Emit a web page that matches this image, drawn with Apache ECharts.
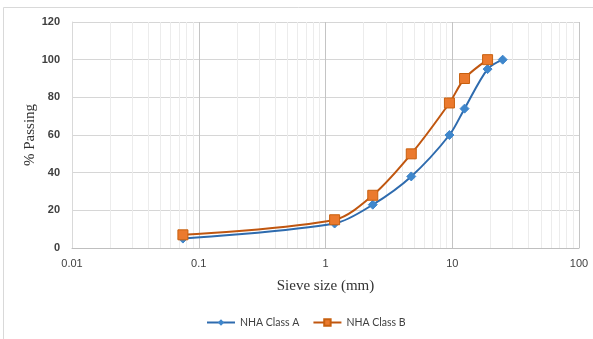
<!DOCTYPE html>
<html>
<head>
<meta charset="utf-8">
<script src="https://cdn.jsdelivr.net/npm/echarts@6/dist/echarts.min.js"></script>
<style>html,body{margin:0;padding:0;background:#fff;}#c{width:593px;height:339px;}</style>
</head>
<body>
<div id="c"></div>
<script>
// Data
const sieveA = [0.075, 1.18, 2.36, 4.75, 9.5, 12.5, 19, 25];
const passA = [5, 13, 23, 38, 60, 74, 95, 100];
const sieveB = [0.075, 1.18, 2.36, 4.75, 9.5, 12.5, 19];
const passB = [7, 15, 28, 50, 77, 90, 100];
const seriesNames = ['NHA Class A', 'NHA Class B'];
const xTickLabels = ['0.01', '0.1', '1', '10', '100'];
const yTicks = [0, 20, 40, 60, 80, 100, 120];

// minor log gridline positions (2..9 per decade)
const decades = [0.01, 0.1, 1, 10];
const minorPos = [];
decades.forEach(d => { for (let k = 2; k <= 9; k++) minorPos.push(+(k * d).toPrecision(3)); });

const chart = echarts.init(document.getElementById('c'), null, {renderer: 'canvas'});
const labelFont = '"Liberation Sans", Arial, sans-serif';
const legendFont = 'Lato, "Liberation Sans", sans-serif';
const serif = '"Liberation Serif", "Times New Roman", serif';

chart.setOption({
  animation: false,
  backgroundColor: '#fff',
  graphic: [{
    type: 'rect', silent: true, z: -10,
    shape: {x: 3.5, y: 7.5, width: 620, height: 360},
    style: {fill: 'none', stroke: '#d9d9d9', lineWidth: 1}
  }],
  grid: {left: 72, right: 14, top: 22, bottom: 91, containLabel: false},
  legend: {
    data: seriesNames,
    left: 206, bottom: 11, padding: 0,
    itemWidth: 28, itemHeight: 8, itemGap: 13,
    textStyle: {fontFamily: legendFont, fontSize: 10.5, color: '#404040'}
  },
  xAxis: {
    type: 'log', logBase: 10, min: 0.01, max: 100,
    name: 'Sieve size (mm)', nameLocation: 'middle', nameGap: 31, nameMoveOverlap: false,
    nameTextStyle: {fontFamily: serif, fontSize: 15, color: '#333'},
    axisLine: {show: true, lineStyle: {color: '#bfbfbf'}},
    axisTick: {show: false},
    axisLabel: {
      margin: 10, fontFamily: labelFont, fontSize: 11, color: '#404040',
      formatter: v => {
        const i = Math.round(Math.log10(v)) + 2;
        return xTickLabels[i] !== undefined ? xTickLabels[i] : '';
      }
    },
    splitLine: {show: true, lineStyle: {color: '#c4c4c4', width: 1}}
  },
  yAxis: {
    type: 'value', min: yTicks[0], max: yTicks[yTicks.length - 1], interval: 20,
    name: '% Passing', nameLocation: 'middle', nameGap: 34, nameRotate: 90, nameMoveOverlap: false,
    nameTextStyle: {fontFamily: serif, fontSize: 15, color: '#333'},
    axisLine: {show: true, lineStyle: {color: '#d9d9d9'}},
    axisTick: {show: false},
    axisLabel: {margin: 12, fontFamily: labelFont, fontSize: 11, color: '#404040', fontWeight: 'bold'},
    splitLine: {show: true, lineStyle: {color: '#d6d6d6', width: 1}}
  },
  series: [
    {
      name: seriesNames[0], type: 'line', smooth: 0.3,
      data: sieveA.map((x, i) => [x, passA[i]]),
      symbol: 'diamond', symbolSize: 9,
      lineStyle: {color: '#2E6BAE', width: 2},
      itemStyle: {color: '#3F87CC', borderColor: '#3F87CC'},
      markLine: {
        silent: true, symbol: ['none', 'none'], label: {show: false},
        lineStyle: {color: '#ececec', width: 1, type: 'solid'},
        z: 0,
        data: minorPos.map(v => ({xAxis: v}))
      },
      z: 3
    },
    {
      name: seriesNames[1], type: 'line', smooth: 0.3,
      data: sieveB.map((x, i) => [x, passB[i]]),
      symbol: 'rect', symbolSize: 10,
      lineStyle: {color: '#C0560F', width: 2},
      itemStyle: {color: '#EB7A2E', borderColor: '#C8600F', borderWidth: 1},
      z: 4
    }
  ]
});
</script>
</body>
</html>
